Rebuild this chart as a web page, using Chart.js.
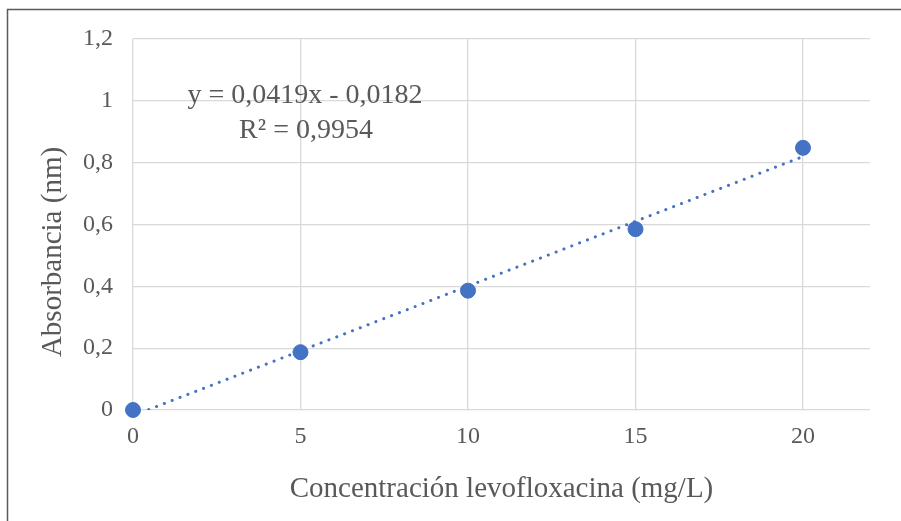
<!DOCTYPE html>
<html>
<head>
<meta charset="utf-8">
<script src="https://cdn.jsdelivr.net/npm/chart.js@4.4.1/dist/chart.umd.min.js"></script>
<style>
  html, body { margin: 0; padding: 0; background: #fff; }
  #wrap { width: 901px; height: 521px; }
</style>
</head>
<body>
<div id="wrap"><canvas id="calChart" width="901" height="521"></canvas></div>
<script>
// concentraciones (mg/L) y absorbancias
const concentraciones = [0, 5, 10, 15, 20];
const absorbancias = [0, 0.187, 0.386, 0.585, 0.848];

// linea de tendencia (extremos segun y = 0,0419x - 0,0182)
const tendenciaX = [0, 20];
const tendenciaY = [-0.0182, 0.8198];

const xTicks = [0, 5, 10, 15, 20];
const yTickLabels = ['0', '0,2', '0,4', '0,6', '0,8', '1', '1,2'];
const ecuacion = ['y = 0,0419x - 0,0182', 'R² = 0,9954'];
const tituloX = 'Concentración levofloxacina (mg/L)';
const tituloY = 'Absorbancia (nm)';

const azul = '#4472C4';
const gris = '#595959';
const serif = "'Liberation Serif', 'Times New Roman', serif";

const extras = {
  id: 'extras',
  beforeDraw(chart) {
    const ctx = chart.ctx;
    ctx.save();
    ctx.fillStyle = '#fff';
    ctx.fillRect(0, 0, chart.width, chart.height);
    ctx.restore();
  },
  afterDraw(chart) {
    const ctx = chart.ctx;
    const area = chart.chartArea;
    ctx.save();
    // marco exterior
    ctx.strokeStyle = '#5a5a5a';
    ctx.lineWidth = 1.5;
    ctx.beginPath();
    ctx.moveTo(7.5, chart.height + 2);
    ctx.lineTo(7.5, 9.5);
    ctx.lineTo(chart.width + 2, 9.5);
    ctx.stroke();

    ctx.fillStyle = gris;
    // titulo eje x
    ctx.font = '29px ' + serif;
    ctx.textAlign = 'center';
    ctx.textBaseline = 'alphabetic';
    ctx.fillText(tituloX, (area.left + area.right) / 2, 497);

    // titulo eje y
    ctx.save();
    ctx.translate(61, 252);
    ctx.rotate(-Math.PI / 2);
    ctx.fillText(tituloY, 0, 0);
    ctx.restore();

    // ecuacion de la recta
    ctx.font = '28px ' + serif;
    ctx.fillText(ecuacion[0], 305, 103);
    ctx.fillText(ecuacion[1], 306, 138);
    ctx.restore();
  }
};

new Chart(document.getElementById('calChart'), {
  type: 'scatter',
  data: {
    datasets: [
      {
        label: 'Tendencia',
        data: tendenciaX.map((x, i) => ({ x, y: tendenciaY[i] })),
        showLine: true,
        borderColor: azul,
        borderWidth: 3,
        borderDash: [0.1, 8.3],
        borderCapStyle: 'round',
        pointRadius: 0,
        order: 0
      },
      {
        label: 'Absorbancia',
        data: concentraciones.map((x, i) => ({ x, y: absorbancias[i] })),
        backgroundColor: azul,
        borderColor: azul,
        pointRadius: 7.5,
        pointHoverRadius: 7.5,
        clip: false,
        order: 1
      }
    ]
  },
  plugins: [extras],
  options: {
    responsive: false,
    animation: false,
    layout: { padding: { left: 0, right: 31, top: 39, bottom: 0 } },
    plugins: {
      legend: { display: false },
      tooltip: { enabled: false }
    },
    scales: {
      x: {
        type: 'linear',
        min: 0,
        max: 22,
        bounds: 'data',
        border: { display: false },
        grid: { color: '#d9d9d9', lineWidth: 1.3, drawTicks: false },
        ticks: {
          padding: 12,
          color: gris,
          font: { family: serif, size: 24 }
        },
        afterBuildTicks(scale) {
          scale.ticks = xTicks.map(v => ({ value: v }));
        },
        afterFit(scale) {
          scale.height = 111;
          scale.paddingLeft = 0;
          scale.paddingRight = 0;
        }
      },
      y: {
        min: 0,
        max: 1.2,
        border: { display: false },
        grid: { color: '#d9d9d9', lineWidth: 1.3, drawTicks: false },
        ticks: {
          stepSize: 0.2,
          padding: 20,
          color: gris,
          font: { family: serif, size: 24 },
          callback: (v, i) => yTickLabels[i]
        },
        afterFit(scale) {
          scale.width = 133;
          scale.paddingTop = 0;
          scale.paddingBottom = 0;
        }
      }
    }
  }
});
</script>
</body>
</html>
